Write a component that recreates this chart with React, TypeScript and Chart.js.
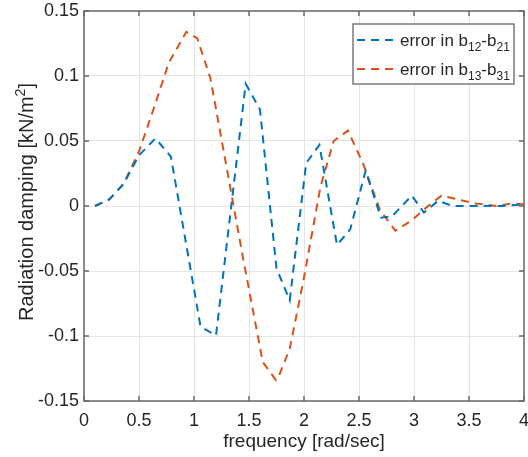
import React, { useEffect, useRef } from "react";
import { Chart, registerables } from "chart.js";

Chart.register(...registerables);

// ---- data ----
const freqB = [0.1, 0.23, 0.36, 0.5, 0.65, 0.79, 1.06, 1.2, 1.47, 1.6, 1.75, 1.87, 2.02, 2.14, 2.3, 2.42, 2.56, 2.7, 2.8, 2.98, 3.09, 3.22, 3.35, 3.5, 3.65, 3.8, 3.95, 4.0];
const errB12 = [0, 0.005, 0.017, 0.039, 0.052, 0.038, -0.093, -0.0995, 0.094, 0.074, -0.048, -0.0725, 0.033, 0.047, -0.03, -0.018, 0.027, -0.009, -0.008, 0.008, -0.005, 0.004, 0, 0, 0, 0, 0.001, 0.0005];

const freqO = [0.1, 0.23, 0.36, 0.5, 0.63, 0.77, 0.93, 1.03, 1.15, 1.3, 1.45, 1.625, 1.745, 1.78, 1.87, 2.0, 2.15, 2.27, 2.4, 2.54, 2.69, 2.83, 2.98, 3.1, 3.25, 3.4, 3.56, 3.75, 3.9, 4.0];
const errB13 = [0, 0.005, 0.017, 0.042, 0.074, 0.11, 0.134, 0.129, 0.098, 0.028, -0.042, -0.12, -0.134, -0.129, -0.11, -0.055, 0.015, 0.05, 0.058, 0.032, -0.003, -0.019, -0.011, -0.002, 0.008, 0.005, 0.002, 0, 0.002, 0.0012];

const xTicks = [0, 0.5, 1, 1.5, 2, 2.5, 3, 3.5, 4];
const yTicks = [-0.15, -0.1, -0.05, 0, 0.05, 0.1, 0.15];

const legendMain = ["error in b", "error in b"];
const legendSubA = ["12", "13"];
const legendMid = ["-b", "-b"];
const legendSubB = ["21", "31"];
const seriesColors = ["#0072BD", "#D95319"];

const yTitleMain = "Radiation damping [kN/m";
const yTitleSup = "2";
const yTitleEnd = "]";

const FONT = "'Liberation Sans', Helvetica, Arial, sans-serif";
const AXIS = "#6a6a6a";
const TEXT = "#262626";

const framePlugin = {
  id: "frame",
  afterDatasetsDraw(chart: any) {
    const { ctx, chartArea: a, scales } = chart;
    ctx.save();
    ctx.strokeStyle = AXIS;
    ctx.lineWidth = 1.5;
    ctx.setLineDash([]);
    ctx.strokeRect(a.left, a.top, a.right - a.left, a.bottom - a.top);
    const tl = 5;
    ctx.beginPath();
    for (const v of xTicks) {
      const x = scales.x.getPixelForValue(v);
      ctx.moveTo(x, a.bottom);
      ctx.lineTo(x, a.bottom - tl);
      ctx.moveTo(x, a.top);
      ctx.lineTo(x, a.top + tl);
    }
    for (const v of yTicks) {
      const y = scales.y.getPixelForValue(v);
      ctx.moveTo(a.left, y);
      ctx.lineTo(a.left + tl, y);
      ctx.moveTo(a.right, y);
      ctx.lineTo(a.right - tl, y);
    }
    ctx.stroke();

    // y-axis title with real superscript
    ctx.fillStyle = TEXT;
    ctx.textBaseline = "alphabetic";
    ctx.textAlign = "left";
    const mainFont = `20px ${FONT}`;
    const supFont = `14px ${FONT}`;
    ctx.font = mainFont;
    const w1 = ctx.measureText(yTitleMain).width;
    const w3 = ctx.measureText(yTitleEnd).width;
    ctx.font = supFont;
    const w2 = ctx.measureText(yTitleSup).width;
    const total = w1 + w2 + w3;
    const cy = (a.top + a.bottom) / 2 - 4;
    ctx.save();
    ctx.translate(33, cy);
    ctx.rotate(-Math.PI / 2);
    let tx = -total / 2;
    ctx.font = mainFont;
    ctx.fillText(yTitleMain, tx, 0);
    tx += w1;
    ctx.font = supFont;
    ctx.fillText(yTitleSup, tx, -8);
    tx += w2;
    ctx.font = mainFont;
    ctx.fillText(yTitleEnd, tx, 0);
    ctx.restore();

    // legend
    const bw = 161, bh = 60;
    const bx = a.right - 10 - bw;
    const by = a.top + 13;
    ctx.fillStyle = "#ffffff";
    ctx.fillRect(bx, by, bw, bh);
    ctx.strokeStyle = "#7a7a7a";
    ctx.lineWidth = 1.5;
    ctx.strokeRect(bx, by, bw, bh);
    for (let i = 0; i < legendMain.length; i++) {
      const ry = by + 16 + i * 29;
      ctx.strokeStyle = seriesColors[i];
      ctx.lineWidth = 2;
      ctx.setLineDash([8, 6]);
      ctx.beginPath();
      ctx.moveTo(bx + 4, ry);
      ctx.lineTo(bx + 44, ry);
      ctx.stroke();
      ctx.setLineDash([]);
      ctx.fillStyle = TEXT;
      let lx = bx + 47;
      const base = ry + 6;
      ctx.font = `17px ${FONT}`;
      ctx.fillText(legendMain[i], lx, base);
      lx += ctx.measureText(legendMain[i]).width;
      ctx.font = `12px ${FONT}`;
      ctx.fillText(legendSubA[i], lx, base + 5);
      lx += ctx.measureText(legendSubA[i]).width;
      ctx.font = `17px ${FONT}`;
      ctx.fillText(legendMid[i], lx, base);
      lx += ctx.measureText(legendMid[i]).width;
      ctx.font = `12px ${FONT}`;
      ctx.fillText(legendSubB[i], lx, base + 5);
    }
    ctx.restore();
  },
};

export default function App() {
  const ref = useRef<HTMLCanvasElement>(null);
  useEffect(() => {
    if (!ref.current) return;
    const chart = new Chart(ref.current, {
      type: "line",
      data: {
        datasets: [
          {
            label: "error in b12-b21",
            data: freqB.map((f, i) => ({ x: f, y: errB12[i] })),
            borderColor: seriesColors[0],
            borderWidth: 2,
            borderDash: [8, 6],
            pointRadius: 0,
            tension: 0,
            fill: false,
          },
          {
            label: "error in b13-b31",
            data: freqO.map((f, i) => ({ x: f, y: errB13[i] })),
            borderColor: seriesColors[1],
            borderWidth: 2,
            borderDash: [8, 6],
            pointRadius: 0,
            tension: 0,
            fill: false,
          },
        ],
      },
      options: {
        responsive: false,
        animation: false,
        devicePixelRatio: 1,
        layout: { padding: { top: 11, right: 4, left: 0, bottom: 0 } },
        plugins: { legend: { display: false }, tooltip: { enabled: false } },
        scales: {
          x: {
            type: "linear",
            min: 0,
            max: 4,
            afterBuildTicks: (s: any) => {
              s.ticks = xTicks.map((v) => ({ value: v }));
            },
            afterFit: (s: any) => {
              s.height = 56;
              s.paddingLeft = 0;
              s.paddingRight = 0;
            },
            grid: { color: "#e4e4e4", lineWidth: 1, drawTicks: false },
            border: { display: false },
            ticks: {
              padding: 9,
              maxRotation: 0,
              autoSkip: false,
              color: TEXT,
              font: { family: FONT, size: 18 },
              callback: (v: any) => String(v),
            },
            title: {
              display: true,
              text: "frequency [rad/sec]",
              color: TEXT,
              font: { family: FONT, size: 19, lineHeight: 1 },
              padding: { top: 0, bottom: 6 },
            },
          },
          y: {
            type: "linear",
            min: -0.15,
            max: 0.15,
            afterBuildTicks: (s: any) => {
              s.ticks = yTicks.map((v) => ({ value: v }));
            },
            afterFit: (s: any) => {
              s.width = 84;
              s.paddingTop = 0;
              s.paddingBottom = 0;
            },
            grid: { color: "#e4e4e4", lineWidth: 1, drawTicks: false },
            border: { display: false },
            ticks: {
              padding: 5,
              autoSkip: false,
              color: TEXT,
              font: { family: FONT, size: 18 },
              callback: (v: any) => String(Number(Number(v).toFixed(2))),
            },
            title: { display: false },
          },
        },
      },
      plugins: [framePlugin],
    });
    return () => chart.destroy();
  }, []);
  return (
    <div style={{ position: "absolute", left: 0, top: 0, width: 528, height: 457, background: "#fff" }}>
      <canvas ref={ref} width={528} height={457} />
    </div>
  );
}
